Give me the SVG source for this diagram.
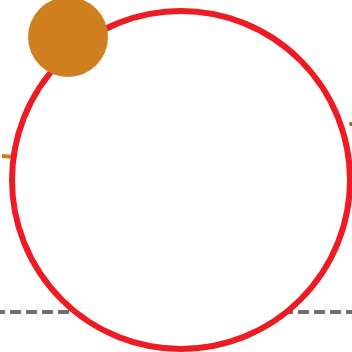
<svg xmlns="http://www.w3.org/2000/svg" width="352" height="352" viewBox="0 0 352 352">
<style>
.dash{stroke:#6f6f6f;stroke-width:4;stroke-dasharray:11 5;stroke-dashoffset:6;fill:none}
.orange{fill:#D07F1E}
</style>
<rect width="352" height="352" fill="#fff"/>
<g id="connectors">
<line class="dash" x1="0" y1="312" x2="352" y2="312"/>
<line x1="2" y1="156" x2="14" y2="157" stroke="#D07F1E" stroke-width="4"/>
<circle cx="351" cy="124" r="2" fill="#C0541E"/>
</g>
<g id="main">
<circle cx="181" cy="180" r="169" fill="#fff" stroke="#ED1C24" stroke-width="6"/>
</g>
<g id="ball">
<circle class="orange" cx="68" cy="37" r="40"/>
</g>
</svg>
